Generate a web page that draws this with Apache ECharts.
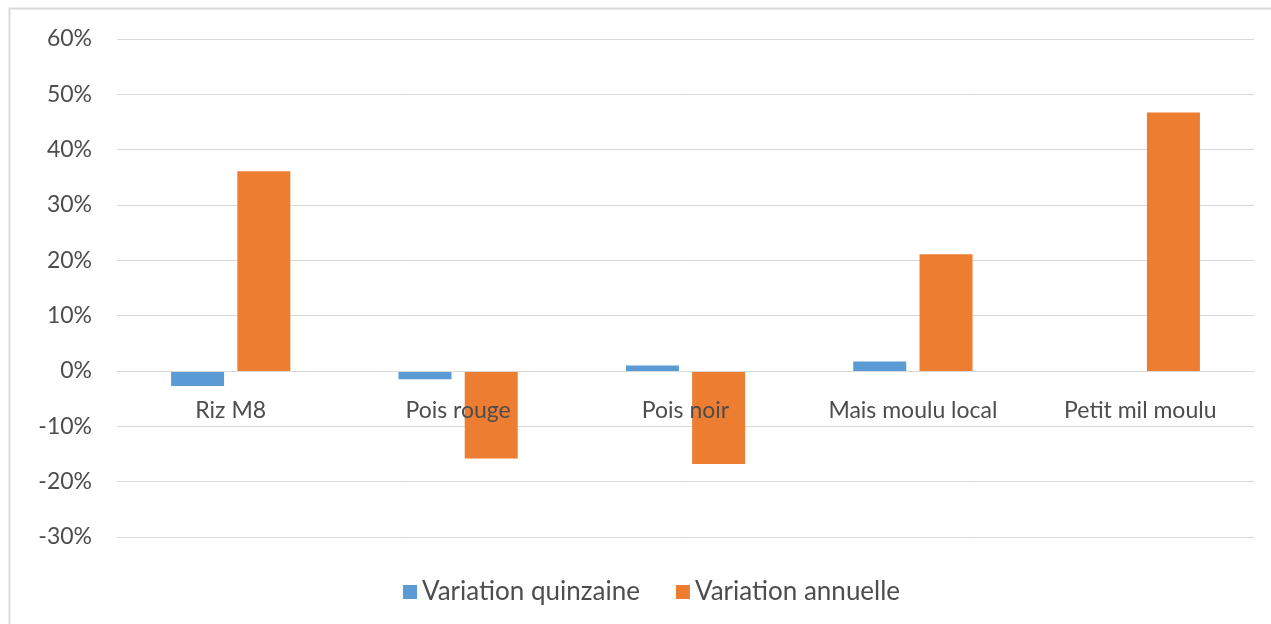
<!DOCTYPE html>
<html>
<head>
<meta charset="utf-8">
<script src="https://cdn.jsdelivr.net/npm/echarts@6/dist/echarts.min.js"></script>
<style>
  html, body { margin: 0; padding: 0; background: #fff; }
  #main { width: 1271px; height: 624px; }
</style>
</head>
<body>
<div id="main"></div>
<script>
// produits
const categories = ['Riz M8', 'Pois rouge', 'Pois noir', 'Mais moulu local', 'Petit mil moulu'];
// variations en %
const quinzaine = [-2.7, -1.5, 1.0, 1.7, 0];
const annuelle = [36.1, -15.8, -16.8, 21.1, 46.7];

const font = 'Lato, "Open Sans", sans-serif';
const textColor = '#4d4d4d';
const myChart = echarts.init(document.getElementById('main'));

const option = {
  backgroundColor: '#fff',
  animation: false,
  graphic: [
    {
      type: 'rect',
      shape: { x: 9.5, y: 8.5, width: 1300, height: 700 },
      style: { fill: 'none', stroke: '#d9d9d9', lineWidth: 2 },
      silent: true,
    },
  ],
  grid: { left: 117, right: 17, top: 39, bottom: 87 },
  legend: {
    bottom: 14,
    left: 398,
    itemWidth: 14,
    itemHeight: 14,
    itemGap: 36,
    icon: 'rect',
    textStyle: { color: textColor, fontSize: 26, fontFamily: font },
    data: ['Variation quinzaine', 'Variation annuelle'],
  },
  xAxis: {
    type: 'category',
    data: categories,
    z: 5, // libellés au-dessus des barres
    // l'axe est sur la ligne du zéro, les libellés juste en dessous
    offset: -166,
    axisLine: { onZero: false, lineStyle: { color: '#d9d9d9' } },
    axisTick: { show: false },
    axisLabel: { color: textColor, fontSize: 23, fontFamily: font, margin: 28 },
  },
  yAxis: {
    type: 'value',
    min: -30,
    max: 60,
    interval: 10,
    axisLine: { show: false },
    axisTick: { show: false },
    splitLine: { lineStyle: { color: '#d9d9d9' } },
    axisLabel: {
      color: textColor,
      fontSize: 23,
      fontFamily: font,
      margin: 25,
      formatter: v => v + '%',
    },
  },
  series: [
    {
      name: 'Variation quinzaine',
      type: 'bar',
      data: quinzaine,
      barWidth: 53,
      barGap: '25%',
      itemStyle: { color: '#5b9bd5' },
    },
    {
      name: 'Variation annuelle',
      type: 'bar',
      data: annuelle,
      barWidth: 53,
      itemStyle: { color: '#ed7d31' },
    },
  ],
};
myChart.setOption(option);
</script>
</body>
</html>
